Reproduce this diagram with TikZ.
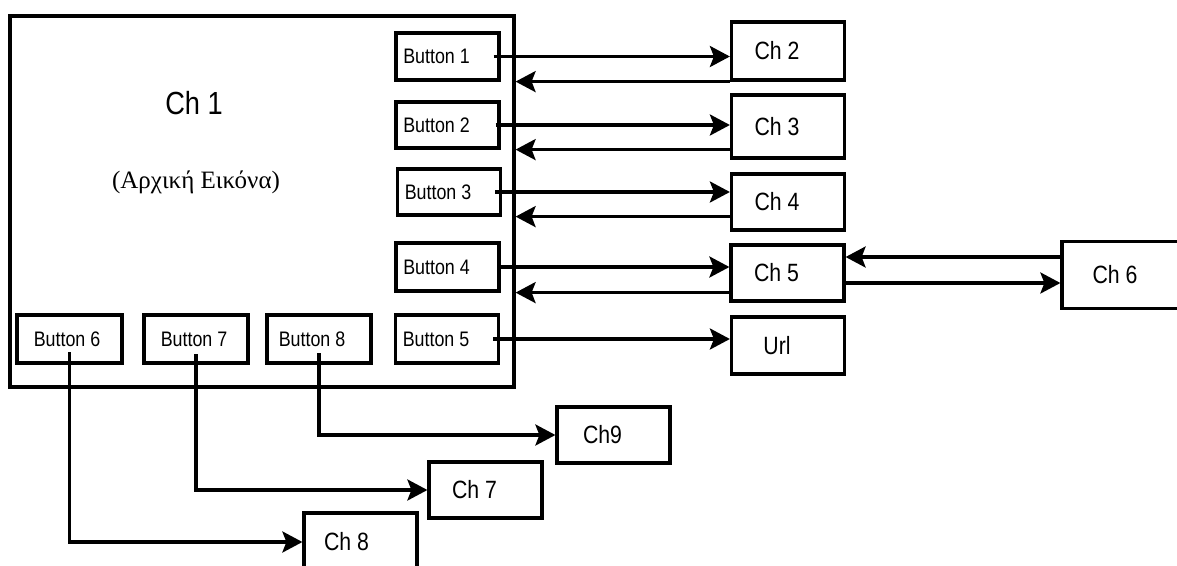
\documentclass[tikz,border=0pt]{standalone}
\usepackage{fontspec}
\setmainfont{Liberation Sans}[FakeStretch=0.85]
\newfontfamily\greekserif{Liberation Serif}
\usetikzlibrary{positioning,arrows.meta}

\begin{document}
\begin{tikzpicture}[x=1pt,y=-1pt,>={Stealth[length=20pt,width=21pt,inset=4pt]},
  frame/.style={draw,line width=3.2pt,inner sep=0pt},
  btn/.style={frame,minimum width=103pt,minimum height=47pt,font=\fontsize{21}{23}\selectfont,
    execute at begin node=\hspace*{#1}},
  btn/.default=-22pt,
  chbox/.style={frame,minimum width=113pt,minimum height=57pt,font=\fontsize{25}{27}\selectfont,
    execute at begin node=\hspace*{#1}},
  chbox/.default=-22pt,
  link/.style={->,line width=3.2pt}]
\useasboundingbox (0,0) rectangle (1177,565);

% main screen
\node[frame,minimum width=504pt,minimum height=371pt] (ch1) at (262,201.5) {};
\node[font=\fontsize{32}{34}\selectfont] (ch1title) at (194,103) {Ch 1};
\node[font=\fontsize{25}{27}\selectfont\greekserif] (ch1sub) at (196,182) {(Αρχική Εικόνα)};

% buttons
\node[btn] (b1) at (447.5,56.5) {Button 1};
\node[btn,minimum height=46pt] (b2) at (447.5,125) {Button 2};
\node[btn,minimum height=46pt] (b3) at (449,192) {Button 3};
\node[btn,minimum height=48pt] (b4) at (447.5,267) {Button 4};
\node[btn,minimum height=48pt] (b5) at (447,339) {Button 5};
\node[btn=-5pt,minimum height=48pt,minimum width=105pt] (b6) at (69.5,339) {Button 6};
\node[btn=-4pt,minimum height=48pt,minimum width=104pt] (b7) at (196,339) {Button 7};
\node[btn=-14pt,minimum height=48pt,minimum width=104pt] (b8) at (319,339) {Button 8};

% target screens
\node[chbox,minimum height=58pt] (ch2) at (788,51) {Ch 2};
\node[chbox,minimum height=63pt] (ch3) at (788,126.5) {Ch 3};
\node[chbox,minimum height=56pt] (ch4) at (788,202) {Ch 4};
\node[chbox,minimum height=56pt] (ch5) at (787.5,273) {Ch 5};
\node[chbox] (url) at (788,345.5) {Url};
\node[chbox=-12pt,minimum width=118pt,minimum height=67pt] (ch6) at (1121,275) {Ch 6};
\node[chbox,minimum height=56pt] (ch9) at (613.5,435) {Ch9};
\node[chbox,minimum height=56pt] (ch7) at (485.5,490) {Ch 7};
\node[chbox=-28pt,minimum height=58pt] (ch8) at (360.5,542) {Ch 8};

% forward links
\draw[link] ([xshift=-7pt]b1.east) -- (b1 -| ch2.west);
\draw[link] ([xshift=-5pt]b2.east) -- (b2 -| ch3.west);
\draw[link] ([xshift=-7pt]b3.east) -- (b3 -| ch4.west);
\draw[link] ([xshift=-2pt]b4.east) -- (b4 -| ch5.west);
\draw[link] ([xshift=-7pt]b5.east) -- (b5 -| url.west);

% back links
\draw[link] (ch2.west |- b1.south) -- (ch1.east |- b1.south);
\draw[link] (ch3.west |- b2.south) -- (ch1.east |- b2.south);
\draw[link] ([xshift=3pt]ch4.west |- b3.south) -- (ch1.east |- b3.south);
\draw[link] (ch5.west |- b4.south) -- (ch1.east |- b4.south);

% Ch 5 <-> Ch 6
\draw[link] ([yshift=18pt]ch6.west) -- ([yshift=18pt]ch6.west -| ch5.east);
\draw[link] ([yshift=-10pt]ch5.east) -- ([yshift=-10pt]ch5.east -| ch6.west);

% bottom buttons
\draw[link] ([yshift=-13pt]b6.center) |- (ch8.west);
\draw[link] ([yshift=-15pt]b7.center) |- (ch7.west);
\draw[link] ([yshift=-14pt]b8.center) |- (ch9.west);
\end{tikzpicture}
\end{document}
